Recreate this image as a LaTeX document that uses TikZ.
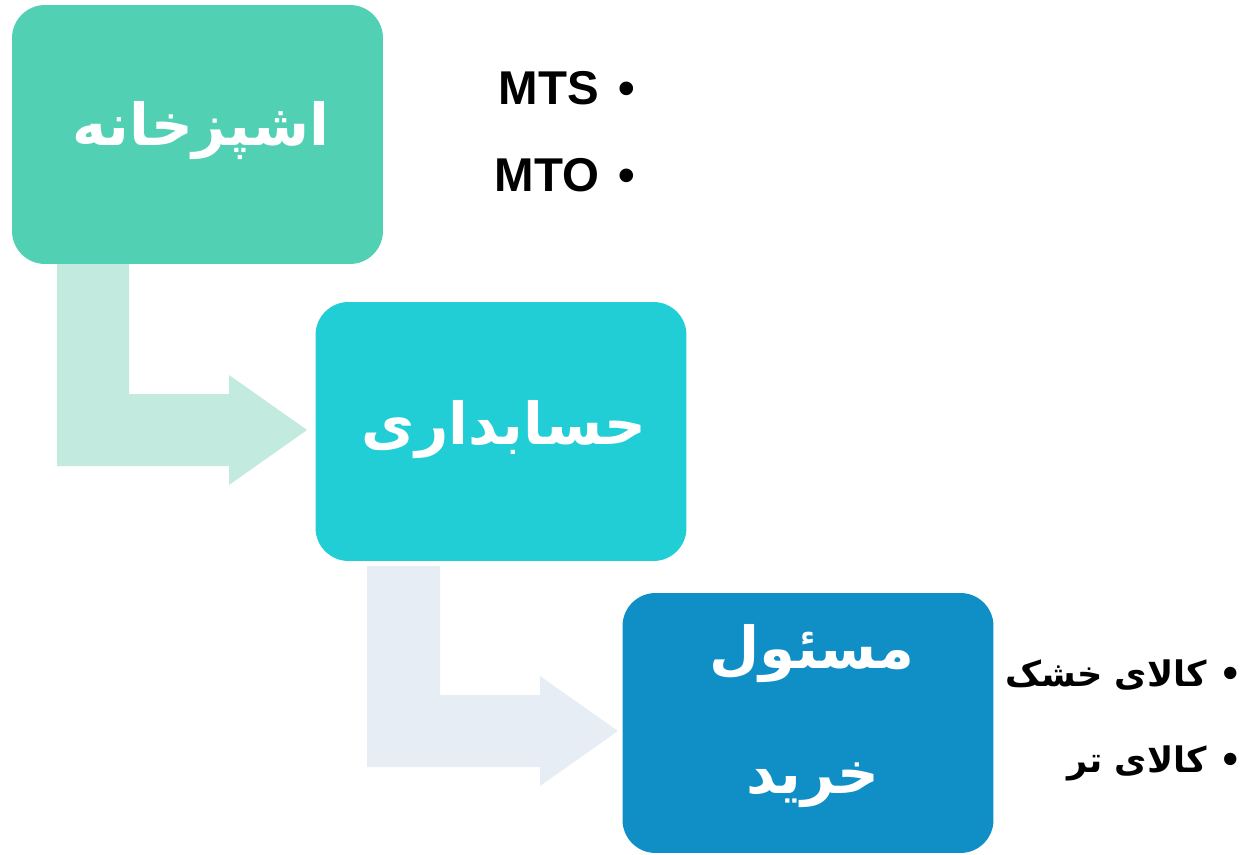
\documentclass[tikz,border=0pt]{standalone}
\usepackage{fontspec}
\setmainfont{Liberation Sans}
\newfontfamily\farsi[Script=Arabic]{DejaVu Sans}
\TeXXeTstate=1
\definecolor{kitchencol}{HTML}{52D0B3}
\definecolor{accountcol}{HTML}{22CED6}
\definecolor{buyercol}{HTML}{0F8FC6}
\definecolor{arrowone}{HTML}{C2EADF}
\definecolor{arrowtwo}{HTML}{E6EDF5}

\begin{document}
\begin{tikzpicture}[x=0.02cm, y=-0.02cm,
    box/.style={rounded corners=0.66cm, minimum width=7.42cm, minimum height=5.18cm,
        inner sep=0pt},
    boxtext/.style={inner sep=0pt, text=white, anchor=base,
        font=\farsi\bfseries\fontsize{33}{40}\selectfont},
    item/.style={inner sep=0pt, anchor=east, font=\bfseries\fontsize{27}{32}\selectfont},
    faitem/.style={inner sep=0pt, anchor=base east, font=\farsi\bfseries\fontsize{20}{24}\selectfont}]
\useasboundingbox (0,0) rectangle (1248,855);
\fill[arrowone] (57,255) -- (129,255) -- (129,394) -- (229,394) -- (229,375)
    -- (307,430) -- (229,485) -- (229,466) -- (57,466) -- cycle;
\fill[arrowtwo] (367,566) -- (440,566) -- (440,695) -- (540,695) -- (540,676)
    -- (618,731) -- (540,786) -- (540,767) -- (367,767) -- cycle;
\node[box, fill=kitchencol] (kitchen) at (197.5,134.5) {};
\node[box, fill=accountcol] (account) at (501,431.5) {};
\node[box, fill=buyercol, minimum height=5.2cm] (buyer) at (808,723) {};
\node[boxtext] (kitchenname) at (201,146) {\beginR اشپزخانه\endR};
\node[boxtext] (accountname) at (504,444) {\beginR حسابداری\endR};
\node[boxtext] (buyername1) at (812,668) {\beginR مسئول\endR};
\node[boxtext] (buyername2) at (813,793) {\beginR خرید\endR};
\foreach \t/\y in {MTS/88, MTO/175}
    \node[item] (\t) at (635,\y) {\t\hspace{0.4em}•};
\node[faitem] (dry) at (1242,686) {\beginR •\hspace{0.35em}کالای خشک\endR};
\node[faitem] (fresh) at (1242,772) {\beginR •\hspace{0.35em}کالای تر\endR};
\end{tikzpicture}
\end{document}
